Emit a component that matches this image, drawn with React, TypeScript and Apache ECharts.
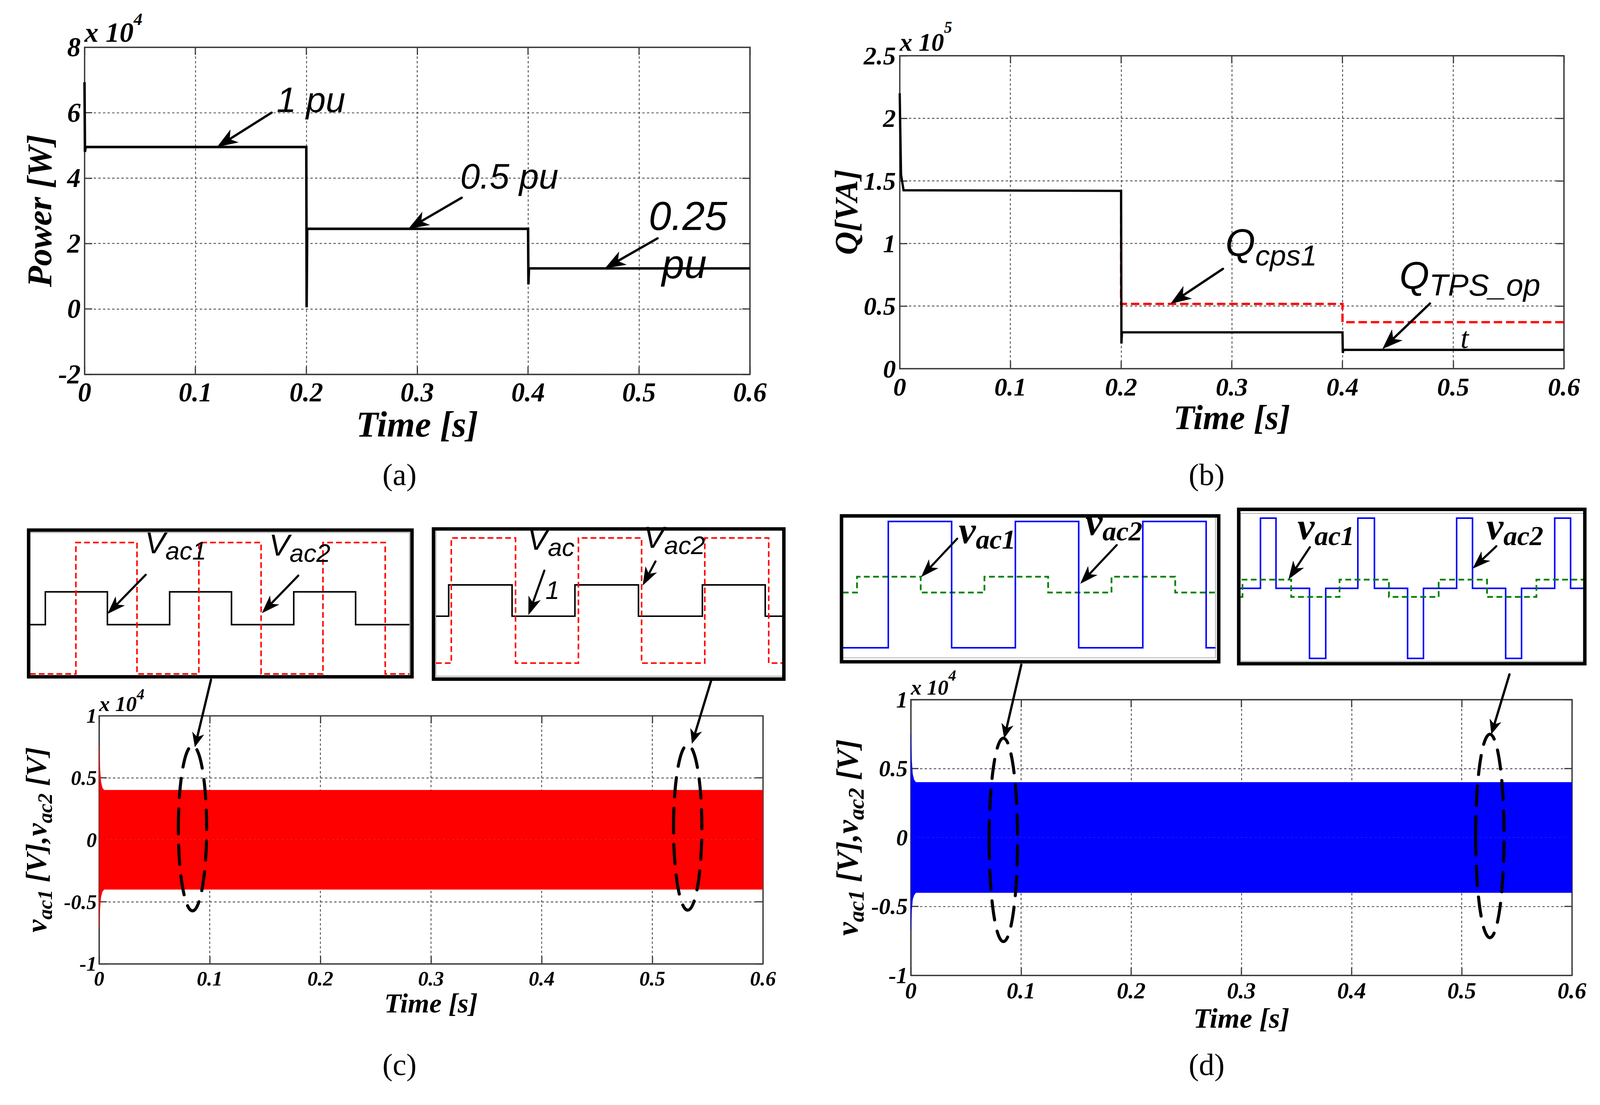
import React, { useEffect, useRef } from 'react';
import * as echarts from 'echarts';

const W = 4165;
const H = 2830;
const SERIF = '"Liberation Serif", "Times New Roman", serif';
const SANS = '"Liberation Sans", Arial, sans-serif';
const C_SERIF = 0.3375;
const C_SANS = 0.3465;
const AXIS_COLOR = '#3a3a3a';

type Pt = [number, number];

// ---------------- data: main plots ----------------
const timeMin = 0;
const timeMax = 0.6;
const timeStep = 0.1;

// (a) active power [W]
const powerTime = [0, 0.0004, 0.001, 0.2, 0.2003, 0.2008, 0.4, 0.4003, 0.4008, 0.6];
const powerWatt = [69300, 48000, 49500, 49500, 500, 24500, 24500, 7500, 12400, 12400];

// (b) reactive power [VA]
const qTpsTime = [0, 0.0012, 0.0035, 0.2, 0.2003, 0.2008, 0.4, 0.4003, 0.4008, 0.6];
const qTpsVA = [220000, 155000, 142500, 142000, 20000, 29000, 29000, 12500, 15000, 15000];
const qCpsTime = [0.2, 0.2, 0.4, 0.4, 0.6];
const qCpsVA = [142000, 51700, 51700, 37100, 37100];

// (c), (d) envelope of the switching voltages [V]
const envTime = [0, 0.0008, 0.0016, 0.0028, 0.0045, 0.6];
const vcUpper = [7600, 5600, 4700, 4200, 4000, 4000];
const vcLower = [-7200, -5400, -4600, -4200, -4000, -4000];
const vdUpper = [7500, 5500, 4600, 4200, 4000, 4000];
const vdLower = [-6700, -5200, -4500, -4200, -4000, -4000];

// y axes
const powerAxis = { min: -20000, max: 80000, step: 20000, scale: 1e4, exp: '4' };
const qAxis = { min: 0, max: 250000, step: 50000, scale: 1e5, exp: '5' };
const vAxis = { min: -10000, max: 10000, step: 5000, scale: 1e4, exp: '4' };

// ---------------- data: zoom insets (x: % of zoom window, y: per unit) ----------------
const cLeftBlackEdges = [4.05, 20.4, 36.8, 53.1, 69.5, 85.8];
const cLeftBlackLevels = [-0.25, 0.25, -0.25, 0.25, -0.25, 0.25, -0.25];
const cLeftRedEdges = [12.1, 28.2, 44.5, 60.9, 77.2, 93.6];
const cLeftRedLevels = [-1, 1, -1, 1, -1, 1, -1];
const cRightBlackEdges = [3.65, 21.9, 40.0, 58.3, 76.7, 94.8];
const cRightBlackLevels = [-0.25, 0.25, -0.25, 0.25, -0.25, 0.25, -0.25];
const cRightRedEdges = [4.4, 22.9, 41.0, 59.2, 77.4, 95.8];
const cRightRedLevels = [-1, 1, -1, 1, -1, 1, -1];
const dLeftBlueEdges = [12.2, 29.2, 46.3, 63.3, 80.5, 97.5];
const dLeftBlueLevels = [-1, 1, -1, 1, -1, 1, -1];
const dLeftGreenEdges = [3.8, 20.9, 38.0, 55.1, 72.1, 89.2];
const dLeftGreenLevels = [-0.125, 0.125, -0.125, 0.125, -0.125, 0.125, -0.125];
const dRightBlueEdges = [5.8, 10.3, 20.0, 24.7, 34.0, 38.8, 48.4, 53.0, 62.6, 67.2, 76.8, 81.4, 91.0, 95.6];
const dRightBlueLevels = [0, 1, 0, -1, 0, 1, 0, -1, 0, 1, 0, -1, 0, 1, 0];
const dRightGreenEdges = [0.6, 14.7, 28.7, 43.0, 57.4, 71.4, 85.7];
const dRightGreenLevels = [-0.123, 0.123, -0.123, 0.123, -0.123, 0.123, -0.123, 0.123];
const insetYRanges: Pt[] = [[-1.029, 1.152], [-1.209, 1.123], [-1.158, 1.079], [-1.04, 1.068]];

// ---------------- layout ----------------
const mainGrids = [
  { left: 220, top: 123, width: 1732, height: 852 },
  { left: 2342, top: 145, width: 1729, height: 815 },
  { left: 258, top: 1864, width: 1728, height: 646 },
  { left: 2371, top: 1822, width: 1721, height: 718 },
];
const insetGrids = [
  { left: 78, top: 1387, width: 988, height: 373 },
  { left: 1135, top: 1381, width: 904, height: 380 },
  { left: 2194, top: 1345, width: 970, height: 368 },
  { left: 3229, top: 1337, width: 899, height: 385 },
];
const insetFrames = [
  [70, 1376, 1077, 1767],
  [1124, 1373, 2045, 1773],
  [2186, 1339, 3177, 1728],
  [3220, 1322, 4130, 1733],
];

const panelCfg: any[] = [
  { axis: powerAxis, tick: 70, xMargin: 12, yMargin: 10, xNameSize: 94, xNameGap: 82,
    yName: 'Power [W]', yNameSize: 90, yNameGap: 66, expSize: 73, expSup: 46, expRise: 44, expDy: -14 },
  { axis: qAxis, tick: 67, xMargin: 14, yMargin: 10, xNameSize: 90, xNameGap: 80,
    yName: 'Q[VA]', yNameSize: 84, yNameGap: 90, expSize: 66, expSup: 42, expRise: 47, expDy: -13 },
  { axis: vAxis, tick: 54, xMargin: 11, yMargin: 6, xNameSize: 72, xNameGap: 66,
    yRich: true, yNameSize: 76, ySubSize: 54, yNameGap: 114, expSize: 56, expSup: 40, expRise: 31, expDy: -12 },
  { axis: vAxis, tick: 60, xMargin: 10, yMargin: 8, xNameSize: 74, xNameGap: 74,
    yRich: true, yNameSize: 80, ySubSize: 58, yNameGap: 114, expSize: 56, expSup: 40, expRise: 36, expDy: -13 },
];

// frame name -> axis index
const FRAME: Record<string, number> = { a: 0, b: 2, c: 4, d: 6, cL: 8, cR: 9, dL: 10, dR: 11 };

const noteTexts: any[] = [
  { f: 'a', at: [0.1732, 60200], text: '1 pu', size: 92, kind: 'sans' },
  { f: 'a', at: [0.3388, 36770], text: '0.5 pu', size: 92, kind: 'sans' },
  { f: 'a', at: [0.5088, 24050], text: '0.25', size: 105, kind: 'sans' },
  { f: 'a', at: [0.5206, 9400], text: 'pu', size: 105, kind: 'sans' },
  { f: 'b', at: [0.5066, 16300], text: 't', size: 78, kind: 'serif' },
  { f: 'cR', at: [31.5, 0.025], text: '1', size: 66, kind: 'sans' },
];
const noteSubTexts: any[] = [
  { f: 'b', at: [0.2942, 90200], main: 'Q', sub: 'cps1', size: 100, subSize: 76, drop: 25, kind: 'sans' },
  { f: 'b', at: [0.4514, 63800], main: 'Q', sub: 'TPS_op', size: 100, subSize: 80, drop: 18, kind: 'sans' },
  { f: 'cL', at: [30.3, 0.836], main: 'V', sub: 'ac1', size: 80, subSize: 66, drop: 16, kind: 'sans' },
  { f: 'cL', at: [63.0, 0.8], main: 'V', sub: 'ac2', size: 80, subSize: 66, drop: 16, kind: 'sans' },
  { f: 'cR', at: [26.3, 0.81], main: 'V', sub: 'ac', size: 80, subSize: 66, drop: 16, kind: 'sans' },
  { f: 'cR', at: [59.8, 0.84], main: 'V', sub: 'ac2', size: 80, subSize: 66, drop: 16, kind: 'sans' },
  { f: 'dL', at: [31.1, 0.66], main: 'v', sub: 'ac1', size: 100, subSize: 72, drop: 15, kind: 'serifBold' },
  { f: 'dL', at: [65.1, 0.79], main: 'v', sub: 'ac2', size: 100, subSize: 72, drop: 15, kind: 'serifBold' },
  { f: 'dR', at: [16.5, 0.7], main: 'v', sub: 'ac1', size: 100, subSize: 72, drop: 15, kind: 'serifBold' },
  { f: 'dR', at: [71.2, 0.7], main: 'v', sub: 'ac2', size: 100, subSize: 72, drop: 15, kind: 'serifBold' },
];
const noteArrows: any[] = [
  { from: ['a', 0.1687, 60000], to: ['a', 0.1195, 49500], lw: 6, head: 54, headW: 40 },
  { from: ['a', 0.3401, 34000], to: ['a', 0.292, 24500], lw: 6, head: 54, headW: 40 },
  { from: ['a', 0.5168, 21600], to: ['a', 0.4693, 12400], lw: 6, head: 54, headW: 40 },
  { from: ['b', 0.292, 79700], to: ['b', 0.2446, 51800], lw: 6, head: 54, headW: 40 },
  { from: ['b', 0.479, 52000], to: ['b', 0.436, 15600], lw: 6, head: 54, headW: 40 },
  { from: ['cL', 30.5, 0.509], to: ['cL', 20.4, -0.088], lw: 5.5, head: 48, headW: 34 },
  { from: ['cL', 70.7, 0.497], to: ['cL', 61.1, -0.076], lw: 5.5, head: 48, headW: 34 },
  { from: ['cR', 31.2, 0.479], to: ['cR', 26.6, -0.233], lw: 5.5, head: 48, headW: 34 },
  { from: ['cR', 63.2, 0.626], to: ['cR', 59.5, 0.239], lw: 5.5, head: 48, headW: 34 },
  { from: ['dL', 30.7, 0.728], to: ['dL', 21.0, 0.119], lw: 5.5, head: 48, headW: 34 },
  { from: ['dL', 73.5, 0.626], to: ['dL', 63.7, 0.012], lw: 5.5, head: 48, headW: 34 },
  { from: ['dR', 20.1, 0.586], to: ['dR', 13.9, 0.126], lw: 5.5, head: 48, headW: 34 },
  { from: ['dR', 74.1, 0.6], to: ['dR', 67.2, 0.279], lw: 5.5, head: 48, headW: 34 },
  { from: ['cL', 47.7, -1.088], to: ['c', 0.0865, 7460], lw: 6, head: 38, headW: 32 },
  { from: ['cR', 79.2, -1.282], to: ['c', 0.5358, 7740], lw: 6, head: 38, headW: 32 },
  { from: ['dL', 47.9, -1.267], to: ['d', 0.0847, 7190], lw: 6, head: 38, headW: 32 },
  { from: ['dR', 77.9, -1.227], to: ['d', 0.5268, 7480], lw: 6, head: 38, headW: 32 },
];
const ellipses: any[] = [
  { f: 'c', center: [0.0844, 930], half: [0.0128, 6660] },
  { f: 'c', center: [0.532, 990], half: [0.0128, 6660] },
  { f: 'd', center: [0.084, -170], half: [0.0129, 7380] },
  { f: 'd', center: [0.5255, 110], half: [0.0129, 7380] },
];
const captions: any[] = [
  { text: '(a)', x: 1040, y: 1236 },
  { text: '(b)', x: 3141, y: 1236 },
  { text: '(c)', x: 1040, y: 2772 },
  { text: '(d)', x: 3141, y: 2772 },
];

// ---------------- helpers ----------------
const zip = (xs: number[], ys: number[]): Pt[] => xs.map((x, i) => [x, ys[i]] as Pt);
function steps(edges: number[], levels: number[], end = 100): Pt[] {
  const pts: Pt[] = [[0, levels[0]]];
  edges.forEach((e, i) => {
    pts.push([e, levels[i]]);
    pts.push([e, levels[i + 1]]);
  });
  pts.push([end, levels[levels.length - 1]]);
  return pts;
}
function fontOf(kind: string) {
  if (kind === 'sans') return { fontFamily: SANS, fontStyle: 'italic', fontWeight: 'normal' };
  if (kind === 'serifBold') return { fontFamily: SERIF, fontStyle: 'italic', fontWeight: 'bold' };
  return { fontFamily: SERIF, fontStyle: 'italic', fontWeight: 'normal' };
}
const centralOf = (kind: string) => (kind === 'sans' ? C_SANS : C_SERIF);

function plainText(x: number, baseline: number, text: string, F: number, kind: string, align = 'left') {
  return {
    type: 'text', z: 120, x, y: baseline - centralOf(kind) * F,
    style: { text, fontSize: F, ...fontOf(kind), fill: '#000', align, verticalAlign: 'middle' },
  };
}
// subscript: main token top-aligned, sub token bottom-aligned in a line box of height Lb
function subRich(F: number, Fs: number, drop: number, kind: string) {
  const c = centralOf(kind);
  const f = fontOf(kind);
  const Lb = drop + (0.5 + c) * F + (0.5 - c) * Fs;
  return {
    m: { ...f, fontSize: F, lineHeight: Lb, verticalAlign: 'top', color: '#000', fill: '#000' },
    s: { ...f, fontSize: Fs, lineHeight: Fs, verticalAlign: 'bottom', color: '#000', fill: '#000' },
  };
}
function subText(x: number, baseline: number, main: string, sub: string, F: number, Fs: number, drop: number, kind: string) {
  const c = centralOf(kind);
  return {
    type: 'text', z: 120, x, y: baseline - (0.5 + c) * F,
    style: {
      text: `{m|${main}}{s|${sub}}`, align: 'left', verticalAlign: 'top', fill: '#000',
      fontSize: F, ...fontOf(kind), rich: subRich(F, Fs, drop, kind),
    },
  };
}
// superscript: main token bottom-aligned, sup token top-aligned
function supText(x: number, baseline: number, main: string, sup: string, F: number, Fs: number, rise: number, kind: string) {
  const c = centralOf(kind);
  const f = fontOf(kind);
  const Lb = rise + (0.5 - c) * F + (0.5 + c) * Fs;
  return {
    type: 'text', z: 120, x, y: baseline - (Lb - (0.5 - c) * F),
    style: {
      text: `{m|${main}}{s|${sup}}`, align: 'left', verticalAlign: 'top', fill: '#000', fontSize: F, ...f,
      rich: {
        m: { ...f, fontSize: F, lineHeight: Lb, verticalAlign: 'bottom', fill: '#000' },
        s: { ...f, fontSize: Fs, lineHeight: Fs, verticalAlign: 'top', fill: '#000' },
      },
    },
  };
}
function arrow(p0: number[], p1: number[], lw: number, headLen: number, headW: number) {
  const dx = p1[0] - p0[0];
  const dy = p1[1] - p0[1];
  const L = Math.hypot(dx, dy) || 1;
  const ux = dx / L, uy = dy / L, nx = -uy, ny = ux;
  const bx = p1[0] - ux * headLen, by = p1[1] - uy * headLen;
  const kx = p1[0] - ux * headLen * 0.72, ky = p1[1] - uy * headLen * 0.72;
  return [
    { type: 'line', z: 120, shape: { x1: p0[0], y1: p0[1], x2: kx, y2: ky }, style: { stroke: '#000', lineWidth: lw, lineCap: 'round' } },
    {
      type: 'polygon', z: 121,
      shape: { points: [[p1[0], p1[1]], [bx + (nx * headW) / 2, by + (ny * headW) / 2], [kx, ky], [bx - (nx * headW) / 2, by - (ny * headW) / 2]] },
      style: { fill: '#000' },
    },
  ];
}

const tickStyle = (size: number) => ({ fontSize: size, fontFamily: SERIF, fontStyle: 'italic', fontWeight: 'bold', color: '#000' });
const scaled = (scale: number) => (v: number) => String(parseFloat((v / scale).toFixed(3)));

function lineSeries(ax: number, data: Pt[], color: string, width: number, dash?: number[]) {
  return {
    type: 'line', xAxisIndex: ax, yAxisIndex: ax, data, showSymbol: false, symbol: 'none', silent: true, z: 3,
    lineStyle: { color, width, type: dash || 'solid', cap: 'butt', join: 'miter' },
  };
}
function bandSeries(ax: number, t: number[], v: number[], color: string) {
  return {
    type: 'line', xAxisIndex: ax, yAxisIndex: ax, data: zip(t, v), showSymbol: false, symbol: 'none', silent: true, z: 3,
    lineStyle: { color, width: 1 }, areaStyle: { color, opacity: 1 },
  };
}

function buildOption() {
  const grid = [...mainGrids, ...insetGrids].map((g, i) => ({
    ...g, show: true, containLabel: false, outerBoundsMode: 'none',
    borderColor: i < 4 ? AXIS_COLOR : '#a8a8a8', borderWidth: i < 4 ? 3 : 2, backgroundColor: 'transparent',
  }));
  const xAxis: any[] = [];
  const yAxis: any[] = [];
  panelCfg.forEach((p, i) => {
    const common = {
      axisLine: { show: true, onZero: false, lineStyle: { color: AXIS_COLOR, width: 3 } },
      axisTick: { show: true, inside: true, length: 20, lineStyle: { color: AXIS_COLOR, width: 3 } },
    };
    xAxis.push({
      type: 'value', gridIndex: i, min: timeMin, max: timeMax, interval: timeStep, position: 'bottom', ...common,
      splitLine: { show: true, lineStyle: { color: '#333', width: 2, type: [6, 6] } },
      axisLabel: { margin: p.xMargin, formatter: (v: number) => String(parseFloat(v.toFixed(2))), ...tickStyle(p.tick) },
      name: 'Time [s]', nameLocation: 'middle', nameGap: p.xNameGap, nameTextStyle: tickStyle(p.xNameSize),
    });
    xAxis.push({
      type: 'value', gridIndex: i, min: timeMin, max: timeMax, interval: timeStep, position: 'top', ...common,
      splitLine: { show: false }, axisLabel: { show: false },
    });
    let yNameObj: any;
    if (p.yRich) {
      yNameObj = {
        name: '{m|v}{s|ac1}{m| [V],}{m|v}{s|ac2}{m| [V]}',
        nameTextStyle: { ...tickStyle(p.yNameSize), rich: subRich(p.yNameSize, p.ySubSize, 0.2 * p.yNameSize, 'serifBold') },
      };
    } else {
      yNameObj = { name: p.yName, nameTextStyle: tickStyle(p.yNameSize) };
    }
    yAxis.push({
      type: 'value', gridIndex: i, min: p.axis.min, max: p.axis.max, interval: p.axis.step, position: 'left', ...common,
      splitLine: { show: true, lineStyle: { color: '#333', width: 2, type: [6, 6] } },
      axisLabel: { margin: p.yMargin, formatter: scaled(p.axis.scale), ...tickStyle(p.tick) },
      nameLocation: 'middle', nameGap: p.yNameGap, ...yNameObj,
    });
    yAxis.push({
      type: 'value', gridIndex: i, min: p.axis.min, max: p.axis.max, interval: p.axis.step, position: 'right', ...common,
      splitLine: { show: false }, axisLabel: { show: false },
    });
  });
  insetGrids.forEach((_, k) => {
    xAxis.push({ type: 'value', gridIndex: 4 + k, min: 0, max: 100, show: false });
    yAxis.push({ type: 'value', gridIndex: 4 + k, min: insetYRanges[k][0], max: insetYRanges[k][1], show: false });
  });

  const series = [
    lineSeries(0, zip(powerTime, powerWatt), '#000', 6.5),
    lineSeries(2, zip(qCpsTime, qCpsVA), '#ff0000', 6, [22, 10]),
    lineSeries(2, zip(qTpsTime, qTpsVA), '#000', 6),
    bandSeries(4, envTime, vcUpper, '#ff0000'),
    bandSeries(4, envTime, vcLower, '#ff0000'),
    bandSeries(6, envTime, vdUpper, '#0000ff'),
    bandSeries(6, envTime, vdLower, '#0000ff'),
    lineSeries(8, steps(cLeftBlackEdges, cLeftBlackLevels), '#000', 4),
    lineSeries(8, steps(cLeftRedEdges, cLeftRedLevels), '#ff0000', 4, [15, 8]),
    lineSeries(9, steps(cRightBlackEdges, cRightBlackLevels), '#000', 4),
    lineSeries(9, steps(cRightRedEdges, cRightRedLevels), '#ff0000', 4, [15, 8]),
    lineSeries(10, steps(dLeftGreenEdges, dLeftGreenLevels), '#008000', 4.5, [15, 9]),
    lineSeries(10, steps(dLeftBlueEdges, dLeftBlueLevels), '#0000ff', 4),
    lineSeries(11, steps(dRightBlueEdges, dRightBlueLevels), '#0000ff', 4),
    lineSeries(11, steps(dRightGreenEdges, dRightGreenLevels), '#008000', 4.5, [15, 9]),
  ];

  return { animation: false, backgroundColor: '#ffffff', grid, xAxis, yAxis, series };
}

function buildGraphics(chart: any) {
  const px = (f: string, x: number, y: number): number[] =>
    chart.convertToPixel({ xAxisIndex: FRAME[f], yAxisIndex: FRAME[f] }, [x, y]) as number[];
  const els: any[] = [];

  insetFrames.forEach(([x0, y0, x1, y1]) => {
    els.push({
      type: 'rect', z: 110, shape: { x: x0 + 4.5, y: y0 + 4.5, width: x1 - x0 - 9, height: y1 - y0 - 9 },
      style: { fill: 'none', stroke: '#000', lineWidth: 9 },
    });
  });

  panelCfg.forEach((p, i) => {
    const g = mainGrids[i];
    els.push(supText(g.left, g.top + p.expDy, 'x 10', p.axis.exp, p.expSize, p.expSup, p.expRise, 'serifBold'));
  });

  ellipses.forEach((e) => {
    const c = px(e.f, e.center[0], e.center[1]);
    const r = px(e.f, e.center[0] + e.half[0], e.center[1] + e.half[1]);
    els.push({
      type: 'ellipse', z: 115, shape: { cx: c[0], cy: c[1], rx: Math.abs(r[0] - c[0]), ry: Math.abs(c[1] - r[1]) },
      style: { fill: 'none', stroke: '#000', lineWidth: 8, lineDash: [50, 30], lineCap: 'round' },
    });
  });

  noteArrows.forEach((a) => {
    const p0 = px(a.from[0], a.from[1], a.from[2]);
    const p1 = px(a.to[0], a.to[1], a.to[2]);
    els.push(...arrow(p0, p1, a.lw, a.head, a.headW));
  });

  noteTexts.forEach((t) => {
    const p = px(t.f, t.at[0], t.at[1]);
    els.push(plainText(p[0], p[1], t.text, t.size, t.kind));
  });
  noteSubTexts.forEach((t) => {
    const p = px(t.f, t.at[0], t.at[1]);
    els.push(subText(p[0], p[1], t.main, t.sub, t.size, t.subSize, t.drop, t.kind));
  });

  captions.forEach((c) => {
    els.push({
      type: 'text', z: 120, x: c.x, y: c.y,
      style: { text: c.text, fontSize: 80, fontFamily: SERIF, fontStyle: 'normal', fontWeight: 'normal', fill: '#000', align: 'center', verticalAlign: 'middle' },
    });
  });
  return els;
}

export default function App() {
  const ref = useRef<HTMLDivElement>(null);
  const vw = typeof window !== 'undefined' ? window.innerWidth : W;
  const vh = typeof window !== 'undefined' ? window.innerHeight : H;
  const fit = Math.min(vw / W, vh / H) || 1;

  useEffect(() => {
    document.body.style.margin = '0';
    document.body.style.overflow = 'hidden';
    const el = ref.current;
    if (!el) return;
    const chart = echarts.init(el, null, { renderer: 'svg', width: W, height: H });
    chart.setOption(buildOption() as any);
    chart.setOption({ graphic: { elements: buildGraphics(chart) } } as any);
    return () => chart.dispose();
  }, []);

  return (
    <div style={{ position: 'fixed', left: 0, top: 0, width: '100vw', height: '100vh', overflow: 'hidden', background: '#fff' }}>
      <div
        ref={ref}
        style={{
          position: 'absolute', left: 0, top: 0, width: W, height: H, background: '#fff',
          transform: `scale(${fit})`, transformOrigin: '0 0',
        }}
      />
    </div>
  );
}
